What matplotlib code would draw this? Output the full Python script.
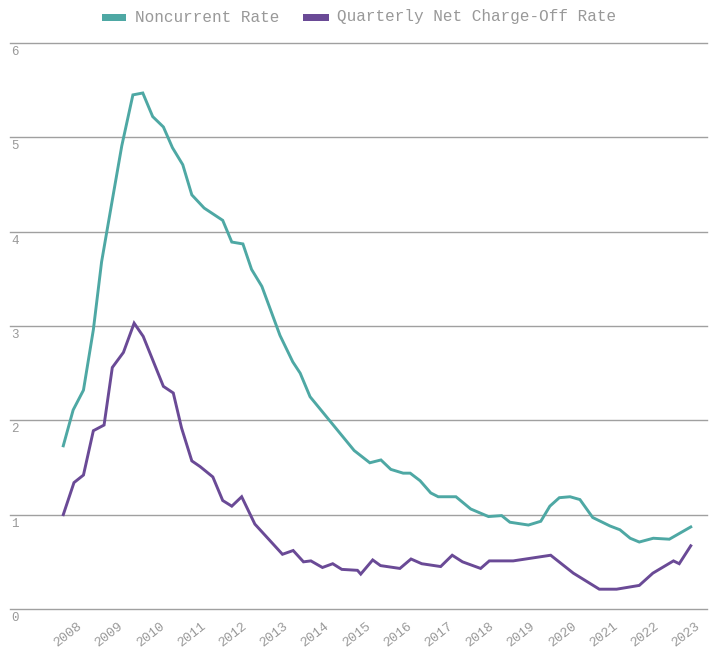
import matplotlib
matplotlib.use("Agg")
import matplotlib.pyplot as plt
from matplotlib.patches import Rectangle
from matplotlib.transforms import ScaledTranslation

# dates as decimal years, rates in percent
noncurrent_dates = [
    2007.74, 2007.98, 2008.23, 2008.47, 2008.67, 2008.92, 2009.16, 2009.43,
    2009.67, 2009.91, 2010.17, 2010.39, 2010.64, 2010.86, 2011.16, 2011.61,
    2011.83, 2012.10, 2012.31, 2012.56, 2013.00, 2013.31, 2013.49, 2013.73,
    2014.80, 2015.18, 2015.45, 2015.69, 2015.99, 2016.16, 2016.40, 2016.66,
    2016.84, 2017.27, 2017.63, 2018.06, 2018.38, 2018.58, 2019.03, 2019.33,
    2019.55, 2019.78, 2020.04, 2020.28, 2020.59, 2021.01, 2021.25, 2021.50,
    2021.72, 2022.06, 2022.45, 2022.97,
]
noncurrent_rate = [
    1.73, 2.11, 2.32, 2.96, 3.68, 4.31, 4.91, 5.45,
    5.47, 5.22, 5.11, 4.89, 4.71, 4.39, 4.25, 4.12,
    3.89, 3.87, 3.60, 3.42, 2.90, 2.62, 2.50, 2.25,
    1.68, 1.55, 1.58, 1.48, 1.44, 1.44, 1.36, 1.23,
    1.19, 1.19, 1.06, 0.98, 0.99, 0.92, 0.89, 0.93,
    1.09, 1.18, 1.19, 1.16, 0.97, 0.88, 0.84, 0.75,
    0.71, 0.75, 0.74, 0.87,
]

chargeoff_dates = [
    2007.74, 2008.00, 2008.23, 2008.47, 2008.73, 2008.93, 2009.20, 2009.46,
    2009.68, 2010.17, 2010.41, 2010.61, 2010.86, 2011.06, 2011.37, 2011.61,
    2011.83, 2012.07, 2012.39, 2013.06, 2013.32, 2013.57, 2013.75, 2014.03,
    2014.28, 2014.50, 2014.88, 2014.96, 2015.25, 2015.44, 2015.91, 2016.18,
    2016.44, 2016.90, 2017.18, 2017.43, 2017.87, 2018.08, 2018.66, 2019.57,
    2020.12, 2020.75, 2021.17, 2021.72, 2022.05, 2022.55, 2022.69, 2022.97,
]
chargeoff_rate = [
    1.00, 1.34, 1.42, 1.89, 1.95, 2.56, 2.72, 3.03,
    2.89, 2.36, 2.29, 1.92, 1.57, 1.51, 1.40, 1.15,
    1.09, 1.19, 0.90, 0.58, 0.62, 0.50, 0.51, 0.44,
    0.48, 0.42, 0.41, 0.37, 0.52, 0.46, 0.43, 0.53,
    0.48, 0.45, 0.57, 0.50, 0.43, 0.51, 0.51, 0.57,
    0.38, 0.21, 0.21, 0.25, 0.38, 0.51, 0.48, 0.67,
]

years = list(range(2008, 2024))
y_ticks = [0, 1, 2, 3, 4, 5, 6]

TEAL = "#4ea8a4"
PURPLE = "#6a4a96"
GRID = "#a0a0a0"
TEXT = "#999999"
FONT = ["Liberation Mono", "DejaVu Sans Mono"]

W, H = 714, 654
fig = plt.figure(figsize=(W / 100, H / 100), dpi=100)
ax = fig.add_axes([10 / W, (H - 609) / H, 697 / W, 566 / H])

ax.plot(noncurrent_dates, noncurrent_rate, color=TEAL, lw=2.1, solid_joinstyle="miter")
ax.plot(chargeoff_dates, chargeoff_rate, color=PURPLE, lw=2.1, solid_joinstyle="miter")

ax.set_xlim(2006.447, 2023.364)
ax.set_ylim(0, 6)
ylab_tr = ax.get_yaxis_transform() + ScaledTranslation(0, -3 / 100, fig.dpi_scale_trans)
for v in y_ticks:
    ax.axhline(v, color=GRID, lw=1.0, zorder=0, clip_on=False)
    ax.text(0.002, v, str(v), transform=ylab_tr, ha="left", va="top",
            fontsize=9, color=TEXT, family=FONT)
ax.set_yticks([])

ax.set_xticks(years)
ax.set_xticklabels([str(y) for y in years], rotation=38, ha="right", va="top",
                   rotation_mode="anchor", fontsize=9.5, color=TEXT, family=FONT)
ax.tick_params(axis="x", length=0, pad=8)
shift = ScaledTranslation(3 / 100, 0, fig.dpi_scale_trans)
for lab in ax.get_xticklabels():
    lab.set_transform(lab.get_transform() + shift)
for spine in ax.spines.values():
    spine.set_visible(False)

# legend drawn at the top in pixel coordinates
def fx(px):
    return px / W

def fy(py):
    return (H - py) / H

fig.patches.append(Rectangle((fx(102), fy(21)), 24 / W, 7 / H, transform=fig.transFigure,
                             facecolor=TEAL, edgecolor="none"))
fig.text(fx(135), fy(17), "Noncurrent Rate", ha="left", va="center",
         fontsize=11.5, color=TEXT, family=FONT)
fig.patches.append(Rectangle((fx(303), fy(21)), 26 / W, 7 / H, transform=fig.transFigure,
                             facecolor=PURPLE, edgecolor="none"))
fig.text(fx(337), fy(17), "Quarterly Net Charge-Off Rate", ha="left", va="center",
         fontsize=11.5, color=TEXT, family=FONT)

fig.savefig("out.png", dpi=100)
